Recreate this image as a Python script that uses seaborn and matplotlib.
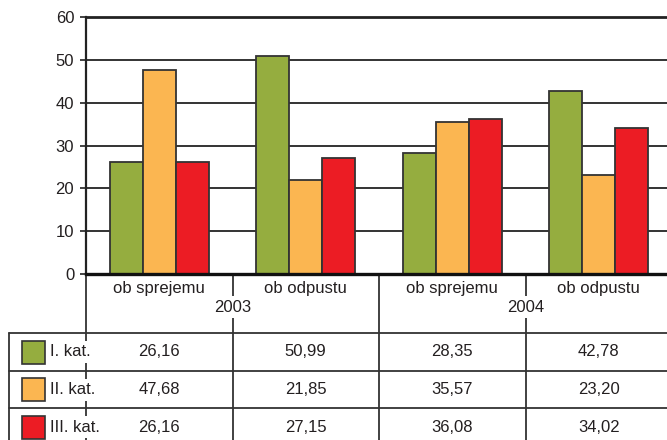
import matplotlib
matplotlib.use("Agg")
import matplotlib.pyplot as plt
import matplotlib.transforms as mtransforms
from matplotlib.lines import Line2D
from matplotlib.patches import Rectangle
import pandas as pd
import seaborn as sns

# Data
years = ["2003", "2004"]
phases = ["ob sprejemu", "ob odpustu"]
series = ["I. kat.", "II. kat.", "III. kat."]
kat_1 = [26.16, 50.99, 28.35, 42.78]
kat_2 = [47.68, 21.85, 35.57, 23.20]
kat_3 = [26.16, 27.15, 36.08, 34.02]
y_ticks = [0, 10, 20, 30, 40, 50, 60]

colors = ["#95ad3f", "#fbb651", "#ec1c24"]
ink = "#231f20"
rule = "#333333"

groups = [f"{y} {p}" for y in years for p in phases]
records = []
for name, vals in zip(series, [kat_1, kat_2, kat_3]):
    for g, v in zip(groups, vals):
        records.append({"skupina": g, "kategorija": name, "delez": v})
df = pd.DataFrame(records)

sns.set_style("white")
plt.rcParams["font.family"] = ["Liberation Sans", "DejaVu Sans"]
plt.rcParams["font.size"] = 12

W, H = 667, 440
fig = plt.figure(figsize=(W / 100, H / 100), dpi=100)
AX_L, AX_B, AX_W, AX_H = 86, 274, 586, 257  # pixel geometry of the plot area
ax = fig.add_axes([AX_L / W, (H - AX_B) / H, AX_W / W, AX_H / H])

sns.barplot(
    data=df, x="skupina", y="delez", hue="kategorija",
    order=groups, hue_order=series, palette=colors,
    width=0.675, gap=0, saturation=1,
    edgecolor=rule, linewidth=1.3, legend=False, ax=ax,
)

ax.set_xlabel("")
ax.set_ylabel("")
ax.set_yticks(y_ticks)
ax.set_yticklabels([str(t) for t in y_ticks], color=ink, fontsize=12)
ax.set_xticks(range(len(groups)))
ax.set_xticklabels([p for _ in years for p in phases], color=ink, fontsize=12)
ax.tick_params(axis="x", length=0, pad=5)
ax.tick_params(axis="y", length=4.5, width=1.3, color=rule, pad=4, left=True)

ax.yaxis.grid(True, color=rule, linewidth=1.4)
ax.set_axisbelow(True)
for side in ("right",):
    ax.spines[side].set_visible(False)
ax.spines["top"].set_linewidth(2.0)
ax.spines["top"].set_color("#222222")
ax.spines["left"].set_linewidth(1.6)
ax.spines["left"].set_color("#222222")
ax.spines["bottom"].set_linewidth(2.4)
ax.spines["bottom"].set_color("#111111")


# Data table underneath the bars
def fy(py):
    return (AX_B - py) / AX_H


def fx(px):
    return (px - AX_L) / AX_W


mixed = mtransforms.blended_transform_factory(ax.transData, ax.transAxes)
line_kw = dict(color=rule, linewidth=1.3, clip_on=False)

row_edges = [fy(333), fy(371), fy(408), fy(446)]
for y in row_edges[:-1]:
    ax.add_artist(Line2D([fx(9), 1.0], [y, y], transform=ax.transAxes, **line_kw))
ax.add_artist(Line2D([fx(9), fx(9)], [row_edges[0], row_edges[-1]],
                     transform=ax.transAxes, **line_kw))
for xd in [-0.5, 0.5, 1.5, 2.5, 3.5]:
    ax.add_artist(Line2D([xd, xd], [0, row_edges[-1]], transform=mixed, **line_kw))

white_box = dict(facecolor="white", edgecolor="none", pad=2.5)
for k, year in enumerate(years):
    xc = (2 * k + 2 * k + 1) / 2
    ax.text(xc, fy(307), year, transform=mixed, ha="center", va="center",
            color=ink, fontsize=12, bbox=white_box, zorder=5)


def fmt(v):
    return f"{v:.2f}".replace(".", ",")


for r, (name, vals, col) in enumerate(zip(series, [kat_1, kat_2, kat_3], colors)):
    top, bottom = row_edges[r], row_edges[r + 1]
    yc = (top + bottom) / 2
    sq = 23 / AX_H
    ax.add_artist(Rectangle((fx(22), yc - sq / 2), fx(45) - fx(22), sq,
                            transform=ax.transAxes, facecolor=col,
                            edgecolor=rule, linewidth=1.2, clip_on=False))
    ax.text(fx(50), yc, name, transform=ax.transAxes, ha="left", va="center",
            color=ink, fontsize=12, bbox=white_box, zorder=5)
    for i, v in enumerate(vals):
        ax.text(i, yc, fmt(v), transform=mixed, ha="center", va="center",
                color=ink, fontsize=12)

ax.set_xlim(-0.5, len(groups) - 0.5)
ax.set_ylim(0, 60)

fig.savefig("out.png", dpi=100)
